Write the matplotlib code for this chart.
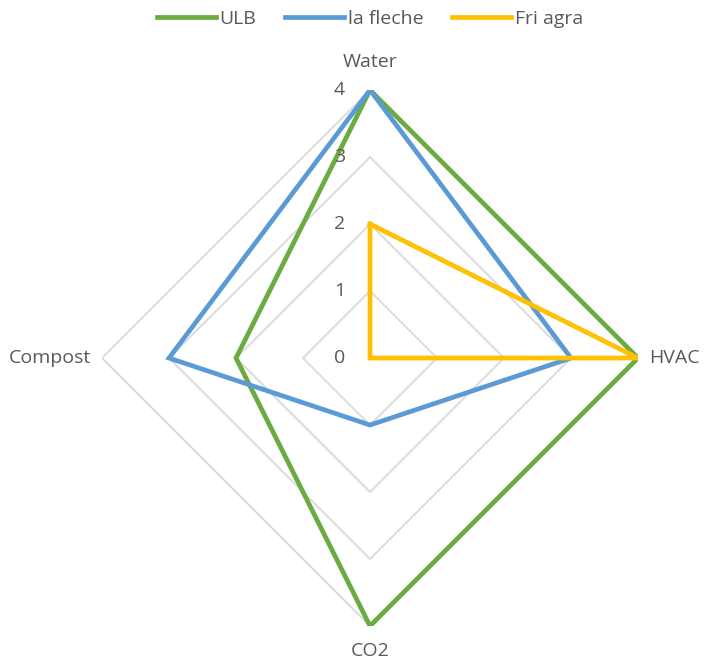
import numpy as np
import matplotlib
matplotlib.use("Agg")
import matplotlib.pyplot as plt

# Radar chart: scores per category for three sites
categories = ["Water", "HVAC", "CO2", "Compost"]
ulb = [4, 4, 4, 2]
la_fleche = [4, 3, 1, 3]
fri_agra = [2, 4, 0, 0]
tick_values = [0, 1, 2, 3, 4]

series = [
    ("ULB", ulb, "#6BAB3F"),
    ("la fleche", la_fleche, "#5B9BD5"),
    ("Fri agra", fri_agra, "#FFC000"),
]

TEXT = "#595959"
GRID = "#D9D9D9"
FS = 14
plt.rcParams["font.family"] = ["Open Sans", "DejaVu Sans"]

fig = plt.figure(figsize=(7.05, 6.64), dpi=100)
ax = fig.add_axes([0.1447, 0.0572, 0.7603, 0.8072], projection="polar")
ax.set_theta_offset(np.pi / 2)
ax.set_theta_direction(-1)

angles = np.linspace(0, 2 * np.pi, len(categories), endpoint=False)
closed = np.append(angles, angles[0])

# diamond gridlines
for r in tick_values[1:]:
    ax.plot(closed, [r] * len(closed), color=GRID, lw=1.3, zorder=1)

for name, vals, color in series:
    ax.plot(closed, vals + vals[:1], color=color, lw=3.4, label=name,
            solid_joinstyle="miter", zorder=3)

ax.set_ylim(0, max(tick_values))
ax.set_xticks([])
ax.set_yticks([])
ax.grid(False)
ax.spines["polar"].set_visible(False)
ax.patch.set_visible(False)

# value labels along the vertical axis
for v in tick_values:
    ax.annotate(str(v), xy=(0, v), xytext=(-22, 0), textcoords="offset points",
                ha="center", va="center", fontsize=FS, color=TEXT)

# category labels just outside the outer ring
label_pos = [((0, 20), "center"), ((8, 0), "left"),
             ((0, -18), "center"), ((-8, 0), "right")]
for ang, cat, (off, ha) in zip(angles, categories, label_pos):
    ax.annotate(cat, xy=(ang, max(tick_values)), xytext=off,
                textcoords="offset points", ha=ha, va="center", fontsize=FS,
                color=TEXT, annotation_clip=False)

fig.legend(loc="upper center", bbox_to_anchor=(0.525, 1.012), ncol=3, frameon=False,
           fontsize=FS, handlelength=3.0, handletextpad=0.2, columnspacing=1.5,
           labelcolor=TEXT)

fig.savefig("out.png", dpi=100)
